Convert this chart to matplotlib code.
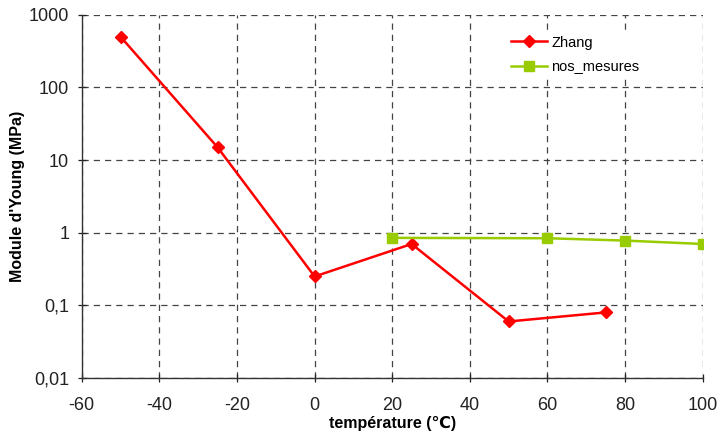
import numpy as np
import matplotlib.pyplot as plt
from matplotlib.ticker import FixedLocator, FixedFormatter, NullLocator

plt.rcParams['font.family'] = ['Liberation Sans', 'DejaVu Sans']
plt.rcParams['axes.unicode_minus'] = False

zhang_t = [-50, -25, 0, 25, 50, 75]
zhang_E = [500, 15, 0.25, 0.7, 0.06, 0.08]

mes_t = [20, 60, 80, 100]
mes_E = [0.85, 0.84, 0.78, 0.70]

yticks = [0.01, 0.1, 1, 10, 100, 1000]
ylabels = ["0,01", "0,1", "1", "10", "100", "1000"]
xticks = [-60, -40, -20, 0, 20, 40, 60, 80, 100]

fig = plt.figure(figsize=(7.2, 4.36), dpi=100)
ax = fig.add_axes([0.1135, 0.133, 0.8625, 0.833])

ax.plot(zhang_t, zhang_E, color="#ff0000", lw=1.8, marker="D", ms=6.5,
        label="Zhang", zorder=3)
ax.plot(mes_t, mes_E, color="#99cc00", lw=1.8, marker="s", ms=7.5,
        label="nos_mesures", zorder=3)

ax.set_yscale("log")
ax.set_ylim(0.01, 1000)
ax.set_xlim(-60, 100)
ax.yaxis.set_major_locator(FixedLocator(yticks))
ax.yaxis.set_major_formatter(FixedFormatter(ylabels))
ax.yaxis.set_minor_locator(NullLocator())
ax.set_xticks(xticks)

ax.grid(True, which="major", linestyle=(0, (5, 4)), color="#444444", lw=0.9)
for s in ["top", "right"]:
    ax.spines[s].set_visible(False)
for s in ["left", "bottom"]:
    ax.spines[s].set_color("#333333")
    ax.spines[s].set_linewidth(1.0)

ax.tick_params(direction="inout", length=6, width=0.9, labelsize=13,
               colors="#222222")
ax.tick_params(axis="x", pad=11)
ax.tick_params(axis="y", pad=6)

ax.set_xlabel("température (℃)", fontsize=11.5, fontweight="bold", labelpad=1)
ax.set_ylabel("Module d'Young (MPa)", fontsize=11.5, fontweight="bold", labelpad=3)

leg = ax.legend(loc="upper left", bbox_to_anchor=(0.672, 0.975), frameon=True,
                fontsize=10.5, handlelength=2.5, labelspacing=0.75,
                borderpad=0.3, handletextpad=0.3)
leg.get_frame().set_edgecolor("none")
leg.get_frame().set_facecolor("white")
leg.get_frame().set_alpha(1)
leg.set_zorder(5)

fig.savefig("out.png", dpi=100)
